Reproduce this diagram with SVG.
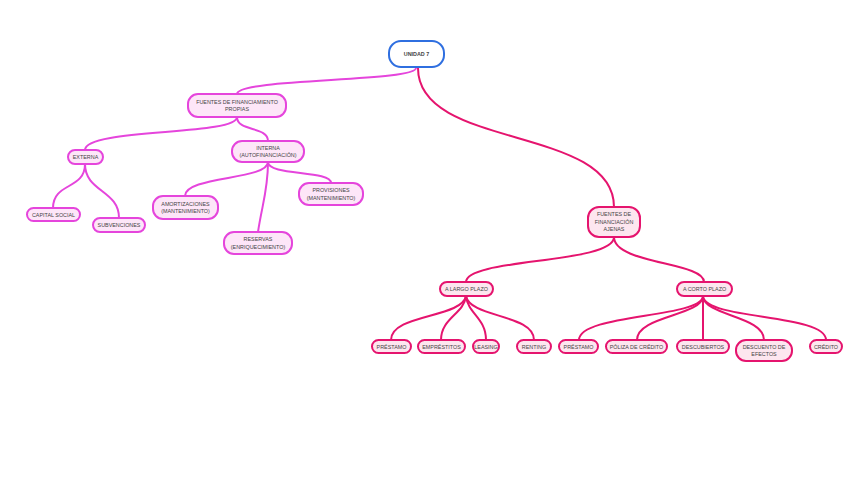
<svg xmlns="http://www.w3.org/2000/svg" width="848" height="479" viewBox="0 0 848 479">
<style>
.bg{fill:#ffffff}
.c1{fill:none;stroke:#e545dc;stroke-width:2}
.c2{fill:none;stroke:#e5146e;stroke-width:2}
.n1 rect{fill:#fde6f8;stroke:#e545dc;stroke-width:2}
.n2 rect{fill:#fde6ef;stroke:#e5146e;stroke-width:2}
.root rect{fill:#ffffff;stroke:#2f6fe0;stroke-width:2}
text{font-family:"Liberation Sans",Arial,sans-serif;font-size:5.4px;fill:#444444;text-anchor:middle}
</style>
<rect class="bg" x="0" y="0" width="848" height="479"/>
<g id="connectors">
<path class="c1" d="M416,68 C416,82 237,78 237,94"/>
<path class="c2" d="M418,68 C418,150 614,125 614,207"/>
<path class="c1" d="M237,117 C237,136 85,128 85,150"/>
<path class="c1" d="M237,117 C237,132 268,126 268,141"/>
<path class="c1" d="M85,164 C85,190 53,182 53,208"/>
<path class="c1" d="M85,164 C85,192 119,190 119,218"/>
<path class="c1" d="M268,162 C268,180 185,176 185,196"/>
<path class="c1" d="M268,162 C268,190 262,205 258,232"/>
<path class="c1" d="M268,162 C268,176 331,170 331,183"/>
<path class="c2" d="M614,237 C614,264 466,258 466,282"/>
<path class="c2" d="M614,237 C614,264 704,262 704,282"/>
<path class="c2" d="M466,296 C462,318 391,314 391,340"/>
<path class="c2" d="M466,296 C464,314 441,318 441,340"/>
<path class="c2" d="M466,296 C468,314 486,318 486,340"/>
<path class="c2" d="M466,296 C470,318 534,314 534,340"/>
<path class="c2" d="M703,297 C698,318 579,314 579,340"/>
<path class="c2" d="M703,297 C700,316 637,316 637,340"/>
<path class="c2" d="M703,297 L703,340"/>
<path class="c2" d="M703,297 C706,316 764,316 764,340"/>
<path class="c2" d="M703,297 C708,320 826,314 826,340"/>
</g>
<g id="unidad7" class="root"><rect x="389" y="41" width="55" height="26" rx="12"/><text x="416.5" y="56" font-weight="bold" font-size="5.8">UNIDAD 7</text></g>
<g id="fuentes-propias" class="n1"><rect x="188" y="94" width="98" height="23" rx="10"/><text x="237" y="103.5">FUENTES DE FINANCIAMIENTO</text><text x="237" y="111">PROPIAS</text></g>
<g id="externa" class="n1"><rect x="68" y="150" width="35" height="14" rx="7"/><text x="85.5" y="159">EXTERNA</text></g>
<g id="interna" class="n1"><rect x="232" y="141" width="72" height="21" rx="10"/><text x="268" y="149.5">INTERNA</text><text x="268" y="157">(AUTOFINANCIACIÓN)</text></g>
<g id="capital-social" class="n1"><rect x="27" y="208" width="53" height="13" rx="6.5"/><text x="53.5" y="216.5">CAPITAL SOCIAL</text></g>
<g id="subvenciones" class="n1"><rect x="93" y="218" width="52" height="14" rx="7"/><text x="119" y="227">SUBVENCIONES</text></g>
<g id="amortizaciones" class="n1"><rect x="153" y="196" width="65" height="23" rx="10"/><text x="185.5" y="205.5">AMORTIZACIONES</text><text x="185.5" y="213">(MANTENIMIENTO)</text></g>
<g id="provisiones" class="n1"><rect x="299" y="183" width="64" height="22" rx="10"/><text x="331" y="192">PROVISIONES</text><text x="331" y="199.5">(MANTENIMIENTO)</text></g>
<g id="reservas" class="n1"><rect x="224" y="232" width="68" height="22" rx="10"/><text x="258" y="241">RESERVAS</text><text x="258" y="248.5">(ENRIQUECIMIENTO)</text></g>
<g id="fuentes-ajenas" class="n2"><rect x="588" y="207" width="52" height="30" rx="11"/><text x="614" y="216">FUENTES DE</text><text x="614" y="223.5">FINANCIACIÓN</text><text x="614" y="231">AJENAS</text></g>
<g id="largo-plazo" class="n2"><rect x="440" y="282" width="53" height="14" rx="7"/><text x="466.5" y="291">A LARGO PLAZO</text></g>
<g id="corto-plazo" class="n2"><rect x="677" y="282" width="55" height="14" rx="7"/><text x="704.5" y="291">A CORTO PLAZO</text></g>
<g id="prestamo-lp" class="n2"><rect x="372" y="340" width="39" height="13" rx="6.5"/><text x="391.5" y="348.5">PRÉSTAMO</text></g>
<g id="emprestitos" class="n2"><rect x="418" y="340" width="47" height="13" rx="6.5"/><text x="441.5" y="348.5">EMPRÉSTITOS</text></g>
<g id="leasing" class="n2"><rect x="473" y="340" width="26" height="13" rx="6.5"/><text x="486" y="348.5">LEASING</text></g>
<g id="renting" class="n2"><rect x="517" y="340" width="34" height="13" rx="6.5"/><text x="534" y="348.5">RENTING</text></g>
<g id="prestamo-cp" class="n2"><rect x="559" y="340" width="39" height="13" rx="6.5"/><text x="578.5" y="348.5">PRÉSTAMO</text></g>
<g id="poliza" class="n2"><rect x="606" y="340" width="61" height="13" rx="6.5"/><text x="636.5" y="348.5">PÓLIZA DE CRÉDITO</text></g>
<g id="descubiertos" class="n2"><rect x="677" y="340" width="52" height="13" rx="6.5"/><text x="703" y="348.5">DESCUBIERTOS</text></g>
<g id="descuento" class="n2"><rect x="736" y="340" width="56" height="21" rx="10"/><text x="764" y="348.5">DESCUENTO DE</text><text x="764" y="356">EFECTOS</text></g>
<g id="credito" class="n2"><rect x="810" y="340" width="32" height="13" rx="6.5"/><text x="826" y="348.5">CRÉDITO</text></g>
</svg>
